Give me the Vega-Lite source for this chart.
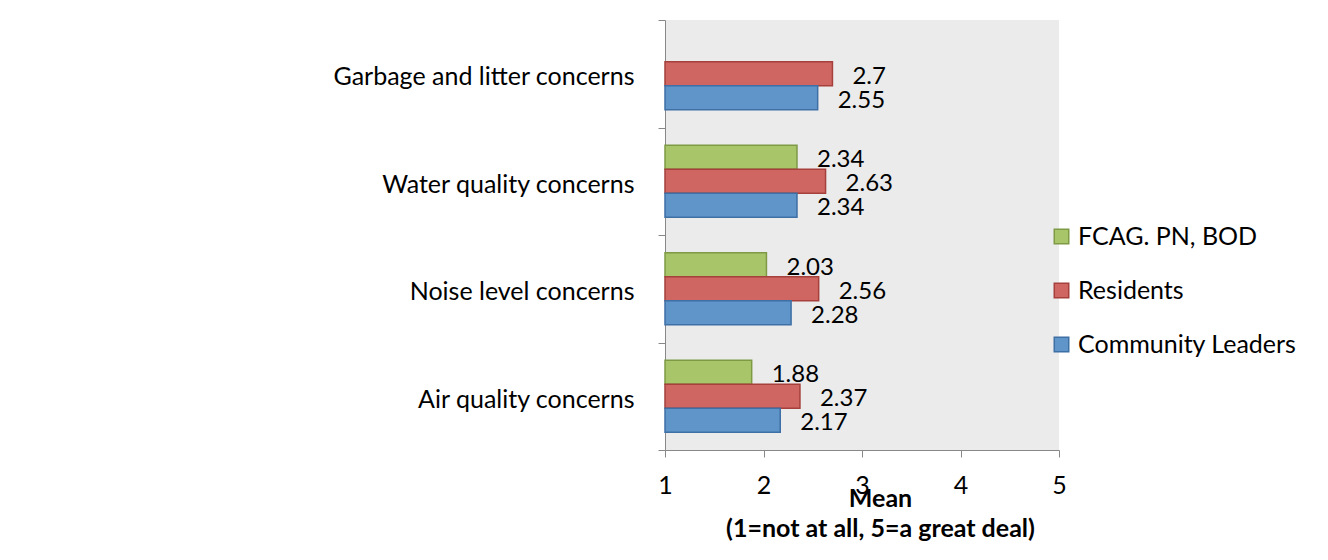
{
  "$schema": "https://vega.github.io/schema/vega-lite/v6.json",
  "width": 394,
  "height": 430,
  "autosize": {"type": "none"},
  "padding": {"left": 665, "top": 20, "right": 269, "bottom": 110},
  "background": "white",
  "config": {
    "view": {"fill": "#EBEBEB", "stroke": null},
    "font": "Lato",
    "axis": {"grid": false}
  },
  "data": {
    "values": [
      {"concern": "Garbage and litter concerns", "group": "Residents", "mean": 2.7},
      {"concern": "Garbage and litter concerns", "group": "Community Leaders", "mean": 2.55},
      {"concern": "Water quality concerns", "group": "FCAG. PN, BOD", "mean": 2.34},
      {"concern": "Water quality concerns", "group": "Residents", "mean": 2.63},
      {"concern": "Water quality concerns", "group": "Community Leaders", "mean": 2.34},
      {"concern": "Noise level concerns", "group": "FCAG. PN, BOD", "mean": 2.03},
      {"concern": "Noise level concerns", "group": "Residents", "mean": 2.56},
      {"concern": "Noise level concerns", "group": "Community Leaders", "mean": 2.28},
      {"concern": "Air quality concerns", "group": "FCAG. PN, BOD", "mean": 1.88},
      {"concern": "Air quality concerns", "group": "Residents", "mean": 2.37},
      {"concern": "Air quality concerns", "group": "Community Leaders", "mean": 2.17}
    ]
  },
  "encoding": {
    "y": {
      "field": "concern",
      "type": "nominal",
      "sort": ["Garbage and litter concerns", "Water quality concerns", "Noise level concerns", "Air quality concerns"],
      "scale": {"paddingInner": 0, "paddingOuter": 0},
      "axis": {
        "title": null,
        "domainColor": "#888888",
        "tickColor": "#888888",
        "tickSize": 7,
        "tickBand": "extent",
        "labelFontSize": 25,
        "labelColor": "black",
        "labelPadding": 24,
        "labelOffset": 3,
        "labelLimit": 600
      }
    },
    "yOffset": {
      "field": "group",
      "type": "nominal",
      "sort": ["FCAG. PN, BOD", "Residents", "Community Leaders"],
      "scale": {"domain": ["FCAG. PN, BOD", "Residents", "Community Leaders"], "paddingInner": 0, "paddingOuter": 0.74}
    },
    "x": {
      "field": "mean",
      "type": "quantitative",
      "scale": {"domain": [1, 5], "nice": false, "zero": false},
      "axis": {
        "values": [1, 2, 3, 4, 5],
        "tickSize": 7,
        "labelPadding": 36,
        "labelBaseline": "alphabetic",
        "labelFontSize": 25,
        "labelColor": "black",
        "labelFlush": false,
        "domainColor": "#888888",
        "tickColor": "#888888",
        "title": ["Mean", "(1=not at all, 5=a great deal)"],
        "titleFontSize": 25,
        "titleFontWeight": "bold",
        "titleColor": "black",
        "titleX": 215,
        "titleY": 56,
        "titleAlign": "center",
        "titleBaseline": "alphabetic",
        "titleLineHeight": 30
      }
    }
  },
  "layer": [
    {
      "mark": {"type": "bar", "strokeWidth": 1.5},
      "encoding": {
        "x2": {"datum": 1},
        "fill": {
          "field": "group",
          "type": "nominal",
          "scale": {"domain": ["FCAG. PN, BOD", "Residents", "Community Leaders"], "range": ["#A9C56A", "#CF6661", "#5F95C8"]},
          "legend": {"title": null, "orient": "none", "legendX": 384, "legendY": 204, "symbolType": "square", "symbolSize": 210, "labelFontSize": 25, "labelColor": "black", "rowPadding": 28, "labelOffset": 4, "symbolStrokeWidth": 1.5, "padding": 0, "labelLimit": 400}
        },
        "stroke": {
          "field": "group",
          "type": "nominal",
          "scale": {"domain": ["FCAG. PN, BOD", "Residents", "Community Leaders"], "range": ["#7E9A45", "#A5403D", "#3E6FA5"]},
          "legend": {"title": null, "orient": "none", "legendX": 384, "legendY": 204, "symbolType": "square", "symbolSize": 210, "labelFontSize": 25, "labelColor": "black", "rowPadding": 28, "labelOffset": 4, "symbolStrokeWidth": 1.5, "padding": 0, "labelLimit": 400}
        }
      }
    },
    {
      "mark": {"type": "text", "align": "left", "baseline": "middle", "dx": 20, "dy": 3, "fontSize": 24, "color": "black"},
      "encoding": {
        "text": {"field": "mean", "type": "quantitative", "format": "~g"}
      }
    }
  ]
}
